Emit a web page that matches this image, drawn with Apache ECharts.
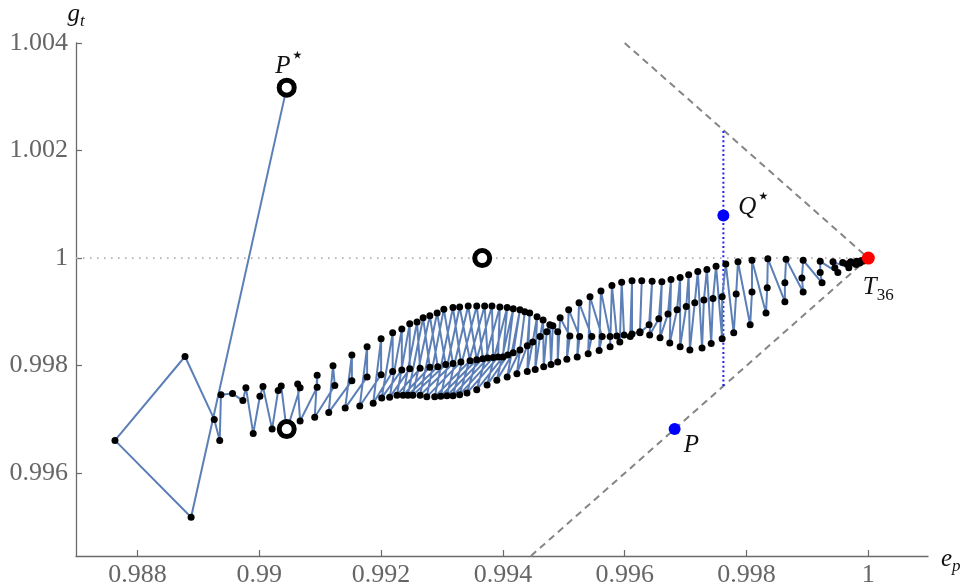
<!DOCTYPE html>
<html>
<head>
<meta charset="utf-8">
<script src="https://cdn.jsdelivr.net/npm/echarts@6/dist/echarts.min.js"></script>
<style>
  html, body { margin: 0; padding: 0; background: #ffffff; }
  #chart { width: 969px; height: 587px; }
</style>
</head>
<body>
<div id="chart"></div>
<script>
// Axis ranges and tick labels
const xRange = [0.98699, 1.00098];
const yRange = [0.99446, 1.004];
const xTickValues = [0.988, 0.99, 0.992, 0.994, 0.996, 0.998, 1];
const xTickLabels = ['0.988', '0.99', '0.992', '0.994', '0.996', '0.998', '1'];
const yTickValues = [0.996, 0.998, 1, 1.002, 1.004];
const yTickLabels = ['0.996', '0.998', '1', '1.002', '1.004'];

// Start-up iterates, beginning at P*
const transientPath = [
  [0.99045, 1.00317], [0.98888, 0.99518], [0.98763, 0.99661], [0.98878, 0.99817],
  [0.98926, 0.99700], [0.98935, 0.99661], [0.98937, 0.99746], [0.98956, 0.99748]
];

// The three interleaved strands of the period-3 spiral (named by their place on the left)
const strandMid = [
  [0.98973,0.99735],[0.99001,0.99743],[0.99031,0.99754],[0.99067,0.99759],[0.99095,0.99760],
  [0.99124,0.99763],[0.99152,0.99772],[0.99177,0.99779],[0.99200,0.99783],[0.99219,0.99789],
  [0.99234,0.99792],[0.99247,0.99794],[0.99264,0.99795],[0.99280,0.99797],[0.99293,0.99798],
  [0.99306,0.99802],[0.99318,0.99804],[0.99331,0.99807],[0.99346,0.99809],[0.99357,0.99811],
  [0.99367,0.99813],[0.99375,0.99814],[0.99384,0.99815],[0.99392,0.99816],[0.99400,0.99816],
  [0.99408,0.99820],[0.99417,0.99824],[0.99428,0.99829],[0.99440,0.99837],[0.99449,0.99844],
  [0.99461,0.99854],[0.99472,0.99863],[0.99482,0.99874],[0.99494,0.99889],[0.99508,0.99904],
  [0.99525,0.99917],[0.99543,0.99928],[0.99561,0.99939],[0.99579,0.99949],[0.99595,0.99955],
  [0.99612,0.99958],[0.99628,0.99958],[0.99645,0.99957],[0.99661,0.99956],[0.99676,0.99960],
  [0.99691,0.99964],[0.99705,0.99969],[0.99720,0.99975],[0.99735,0.99979],[0.99750,0.99985],
  [0.99766,0.99989],[0.99786,0.99993],[0.99809,0.99996],[0.99835,0.99999],[0.99865,0.99998],
  [0.99893,0.99996],[0.99921,0.99994],[0.99942,0.99993],[0.99958,0.99992],[0.99971,0.99993],
  [0.99981,0.99994],[0.99988,0.99995],[0.99993,0.99996],[0.99996,0.99997]
];
const strandTop = [
  [0.98978,0.99759],[0.99006,0.99761],[0.99036,0.99762],[0.99063,0.99766],[0.99095,0.99782],
  [0.99121,0.99800],[0.99152,0.99820],[0.99177,0.99835],[0.99200,0.99850],[0.99219,0.99861],
  [0.99234,0.99868],[0.99247,0.99878],[0.99259,0.99881],[0.99269,0.99889],[0.99280,0.99893],
  [0.99292,0.99898],[0.99303,0.99905],[0.99318,0.99908],[0.99329,0.99909],[0.99343,0.99911],
  [0.99357,0.99911],[0.99370,0.99911],[0.99382,0.99911],[0.99395,0.99909],[0.99407,0.99908],
  [0.99417,0.99906],[0.99428,0.99904],[0.99436,0.99900],[0.99444,0.99898],[0.99456,0.99891],
  [0.99466,0.99885],[0.99477,0.99876],[0.99490,0.99863],[0.99510,0.99855],[0.99526,0.99854],
  [0.99546,0.99854],[0.99563,0.99854],[0.99576,0.99854],[0.99587,0.99855],[0.99599,0.99857],
  [0.99612,0.99859],[0.99625,0.99861],[0.99641,0.99857],[0.99658,0.99852],[0.99674,0.99842],
  [0.99691,0.99835],[0.99707,0.99829],[0.99727,0.99833],[0.99742,0.99841],[0.99760,0.99850],
  [0.99779,0.99861],[0.99806,0.99876],[0.99832,0.99898],[0.99863,0.99919],[0.99893,0.99937],
  [0.99924,0.99954],[0.99950,0.99973],[0.99968,0.99982],[0.99980,0.99988],[0.99986,0.99991],
  [0.99991,0.99994],[0.99995,0.99996],[0.99997,0.99997],[0.99999,0.99998]
];
const strandLow = [
  [0.98990,0.99674],[0.99021,0.99682],[0.99045,0.99679],[0.99067,0.99697],[0.99091,0.99704],
  [0.99114,0.99713],[0.99141,0.99721],[0.99165,0.99725],[0.99187,0.99730],[0.99201,0.99740],
  [0.99214,0.99741],[0.99226,0.99745],[0.99236,0.99745],[0.99244,0.99745],[0.99252,0.99745],
  [0.99264,0.99745],[0.99275,0.99742],[0.99288,0.99742],[0.99298,0.99743],[0.99308,0.99744],
  [0.99318,0.99744],[0.99329,0.99746],[0.99341,0.99749],[0.99357,0.99755],[0.99374,0.99764],
  [0.99390,0.99773],[0.99407,0.99779],[0.99423,0.99785],[0.99440,0.99789],[0.99453,0.99793],
  [0.99467,0.99798],[0.99479,0.99802],[0.99490,0.99807],[0.99505,0.99812],[0.99522,0.99816],
  [0.99540,0.99822],[0.99558,0.99828],[0.99576,0.99835],[0.99592,0.99844],[0.99609,0.99854],
  [0.99625,0.99863],[0.99640,0.99876],[0.99656,0.99887],[0.99671,0.99896],[0.99686,0.99904],
  [0.99701,0.99910],[0.99715,0.99917],[0.99730,0.99922],[0.99745,0.99925],[0.99760,0.99928],
  [0.99783,0.99933],[0.99809,0.99937],[0.99834,0.99945],[0.99863,0.99954],[0.99891,0.99963],
  [0.99921,0.99973],[0.99945,0.99982],[0.99965,0.99989],[0.99976,0.99991],[0.99985,0.99993],
  [0.99990,0.99995],[0.99994,0.99996],[0.99996,0.99997],[0.99999,0.99998]
];

// Marked points
const startRings = [[0.99045, 1.00317], [0.99366, 1.0], [0.99045, 0.99682]];
const pointP = [0.99682, 0.99682];
const pointQ = [0.99762, 1.00079];
const fixedT = [1, 1];

// Guide lines
const levelLine = [[xRange[0], 1], [1, 1]];
const upperEdge = [[0.996, 1.004], [1, 1]];
const lowerEdge = [[0.99446, 0.99446], [1, 1]];
const qLine = [[0.99762, 0.99762], [0.99762, 1.00238]];

// Orbit in iteration order: mid -> top -> low for each turn
const orbit = transientPath.slice();
for (let i = 0; i < strandMid.length; i++) {
  orbit.push(strandMid[i], strandTop[i], strandLow[i]);
}

function tickText(values, texts) {
  return function (v) {
    let k = 0;
    for (let i = 1; i < values.length; i++) {
      if (Math.abs(values[i] - v) < Math.abs(values[k] - v)) k = i;
    }
    return texts[k];
  };
}

const serif = 'Liberation Serif';
const ink = '#111';
const richItalic = {
  v: { fontFamily: serif, fontStyle: 'italic', fontSize: 25, color: ink, lineHeight: 28 },
  s: { fontFamily: 'DejaVu Sans', fontSize: 22, color: ink, verticalAlign: 'top', lineHeight: 28, padding: [-7, 0, 0, 0] },
  i: { fontFamily: serif, fontStyle: 'italic', fontSize: 17, color: ink, verticalAlign: 'bottom', lineHeight: 28, padding: [0, 0, -2, 0] },
  d: { fontFamily: serif, fontSize: 17, color: ink, verticalAlign: 'bottom', lineHeight: 28, padding: [0, 0, -2, 0] }
};

const axisGray = '#6b6b6b';
const chart = echarts.init(document.getElementById('chart'), null, { renderer: 'canvas' });

chart.setOption({
  animation: false,
  backgroundColor: '#ffffff',
  grid: { left: 76, right: 41, top: 43, bottom: 31, containLabel: false, outerBoundsMode: 'none' },
  xAxis: {
    type: 'value',
    min: xRange[0],
    max: xRange[1],
    axisLine: { show: true, onZero: false, lineStyle: { color: axisGray, width: 1.3 } },
    axisTick: { show: true, inside: true, length: 6, customValues: xTickValues, lineStyle: { color: axisGray, width: 1.2 } },
    axisLabel: {
      customValues: xTickValues,
      formatter: tickText(xTickValues, xTickLabels),
      fontFamily: serif, fontSize: 26, color: '#666', margin: 6
    },
    splitLine: { show: false },
    name: '{v|e}{i|p}',
    nameLocation: 'end',
    nameGap: 13,
    nameTextStyle: { rich: richItalic, padding: [6, 0, 0, 0] }
  },
  yAxis: {
    type: 'value',
    min: yRange[0],
    max: yRange[1],
    axisLine: { show: true, onZero: false, lineStyle: { color: axisGray, width: 1.3 } },
    axisTick: { show: true, inside: true, length: 6, customValues: yTickValues, lineStyle: { color: axisGray, width: 1.2 } },
    axisLabel: {
      customValues: yTickValues,
      formatter: tickText(yTickValues, yTickLabels),
      fontFamily: serif, fontSize: 26, color: '#666', margin: 8
    },
    splitLine: { show: false },
    name: '{v|g}{i|t}',
    nameLocation: 'end',
    nameGap: 12,
    nameTextStyle: { rich: richItalic, align: 'center', verticalAlign: 'bottom' }
  },
  series: [
    {
      type: 'line', data: levelLine, symbol: 'none', silent: true, z: 1,
      lineStyle: { color: '#b3b3b3', width: 1.6, type: [1.6, 5.4] }
    },
    {
      type: 'line', data: upperEdge, symbol: 'none', silent: true, z: 1,
      lineStyle: { color: '#858585', width: 2, type: [7, 5] }
    },
    {
      type: 'line', data: lowerEdge, symbol: 'none', silent: true, z: 1,
      lineStyle: { color: '#858585', width: 2, type: [7, 5] }
    },
    {
      type: 'line', data: qLine, symbol: 'none', silent: true, z: 1,
      lineStyle: { color: '#2020ff', width: 2, type: [2, 2.6] }
    },
    {
      type: 'line', data: orbit, z: 3,
      showSymbol: true, showAllSymbol: true,
      symbol: 'circle', symbolSize: 7,
      itemStyle: { color: '#000000', opacity: 1 },
      lineStyle: { color: '#5b7fb6', width: 2 }
    },
    {
      type: 'scatter', z: 5,
      symbol: 'circle', symbolSize: 15,
      itemStyle: { color: '#ffffff', borderColor: '#000000', borderWidth: 5, opacity: 1 },
      data: [
        {
          value: startRings[0],
          label: { show: true, position: 'top', distance: 1, offset: [3, 4], formatter: '{v|P}{s|⋆}', rich: richItalic }
        },
        { value: startRings[1] },
        { value: startRings[2] }
      ]
    },
    {
      type: 'scatter', z: 5,
      symbol: 'circle', symbolSize: 12,
      itemStyle: { color: '#0000ff', opacity: 1 },
      data: [
        {
          value: pointQ,
          label: { show: true, position: 'right', distance: 9, offset: [0, -8], formatter: '{v|Q}{s|⋆}', rich: richItalic }
        },
        {
          value: pointP,
          label: { show: true, position: 'right', distance: 3, offset: [0, 16], formatter: '{v|P}', rich: richItalic }
        }
      ]
    },
    {
      type: 'scatter', z: 6,
      symbol: 'circle', symbolSize: 13,
      itemStyle: { color: '#ff0000', opacity: 1 },
      data: [
        {
          value: fixedT,
          label: { show: true, position: 'bottom', distance: 9, offset: [10, 0], formatter: '{v|T}{d|36}', rich: richItalic }
        }
      ]
    }
  ]
});
</script>
</body>
</html>
